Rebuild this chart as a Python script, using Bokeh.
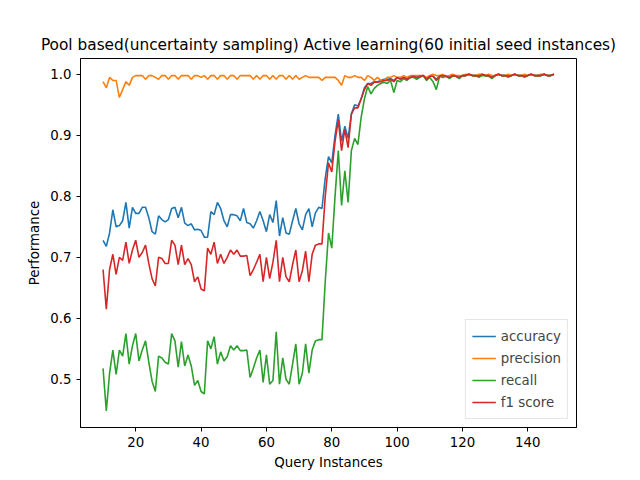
from bokeh.embed import file_html
from bokeh.resources import INLINE
from bokeh.plotting import figure
from bokeh.models import Legend, LegendItem, FixedTicker, NumeralTickFormatter

query = list(range(10, 149))

accuracy_head = [0.728, 0.718, 0.740, 0.778, 0.750, 0.752, 0.760, 0.790, 0.748, 0.782,
                 0.772, 0.772, 0.782, 0.782, 0.765, 0.742, 0.738, 0.768, 0.762, 0.758,
                 0.762, 0.780, 0.782, 0.765, 0.782, 0.756, 0.752, 0.755, 0.745, 0.746,
                 0.744, 0.733, 0.733, 0.775, 0.770, 0.790, 0.780, 0.760, 0.750, 0.770,
                 0.770, 0.768, 0.760, 0.780, 0.757, 0.755, 0.748, 0.760, 0.775, 0.760,
                 0.742, 0.770, 0.757, 0.793, 0.735, 0.765, 0.740, 0.738, 0.760, 0.780,
                 0.755, 0.745, 0.770, 0.780, 0.750, 0.773, 0.782, 0.780, 0.830, 0.865,
                 0.855, 0.900, 0.935, 0.890, 0.915, 0.895, 0.935, 0.950, 0.948, 0.960,
                 0.978, 0.985, 0.985, 0.988, 0.988, 0.990, 0.992]
f1_head = [0.680, 0.615, 0.680, 0.705, 0.672, 0.700, 0.695, 0.725, 0.690, 0.712,
           0.728, 0.700, 0.708, 0.720, 0.690, 0.665, 0.653, 0.700, 0.698, 0.690,
           0.690, 0.728, 0.720, 0.688, 0.720, 0.688, 0.698, 0.688, 0.660, 0.668,
           0.648, 0.645, 0.715, 0.705, 0.725, 0.690, 0.705, 0.690, 0.700, 0.712,
           0.705, 0.712, 0.702, 0.702, 0.703, 0.670, 0.680, 0.692, 0.705, 0.660,
           0.700, 0.665, 0.692, 0.728, 0.660, 0.700, 0.668, 0.660, 0.688, 0.712,
           0.660, 0.678, 0.710, 0.660, 0.705, 0.720, 0.722, 0.722, 0.800, 0.855,
           0.840, 0.890, 0.925, 0.875, 0.910, 0.880, 0.935, 0.945, 0.945, 0.960,
           0.975, 0.985, 0.982, 0.987, 0.987, 0.988, 0.990]
recall_head = [0.518, 0.448, 0.510, 0.548, 0.508, 0.548, 0.538, 0.575, 0.525, 0.555,
               0.575, 0.530, 0.548, 0.563, 0.528, 0.497, 0.480, 0.538, 0.535, 0.528,
               0.525, 0.575, 0.563, 0.520, 0.562, 0.522, 0.540, 0.522, 0.490, 0.498,
               0.480, 0.476, 0.563, 0.550, 0.570, 0.525, 0.545, 0.530, 0.537, 0.555,
               0.548, 0.555, 0.547, 0.547, 0.548, 0.503, 0.518, 0.535, 0.548, 0.495,
               0.540, 0.492, 0.498, 0.578, 0.492, 0.535, 0.500, 0.492, 0.525, 0.558,
               0.492, 0.510, 0.558, 0.510, 0.548, 0.563, 0.565, 0.565, 0.660, 0.740,
               0.715, 0.800, 0.875, 0.785, 0.842, 0.790, 0.875, 0.895, 0.885, 0.930,
               0.960, 0.980, 0.968, 0.977, 0.982, 0.985, 0.987]
precision_head = [0.988, 0.978, 0.995, 0.990, 0.990, 0.962, 0.975, 0.988, 0.982, 0.995,
                  0.998, 0.998, 0.998, 0.992, 0.998, 0.998, 0.995, 0.992, 0.998, 0.998,
                  0.992, 0.998, 0.998, 0.992, 0.998, 0.998, 0.998, 0.992, 0.998, 0.998,
                  0.995, 0.998, 0.992, 0.998, 0.998, 0.992, 0.998, 0.998, 0.992, 0.998,
                  0.998, 0.992, 0.998, 0.998, 0.998, 0.998, 0.992, 0.998, 0.992, 0.998,
                  0.998, 0.992, 0.998, 0.992, 0.998, 0.998, 0.992, 0.998, 0.992, 0.998,
                  0.992, 0.995, 0.998, 0.995, 0.995, 0.995, 0.995, 0.990, 0.995, 0.995,
                  0.995, 0.995, 0.990, 0.982, 0.998, 0.995, 0.995, 0.998, 0.995, 0.995,
                  0.990, 0.998, 0.995, 0.990, 0.995, 0.990, 0.990]

accuracy_tail = [0.992, 0.993, 0.990, 0.995, 0.993, 0.995, 0.993, 0.995, 0.997, 0.995,
                 0.997, 0.998, 0.993, 0.997, 0.997, 0.992, 0.997, 0.998, 0.997, 0.995,
                 0.998, 0.997, 0.995, 0.998, 0.998, 1.000, 0.998, 0.998, 0.997, 1.000,
                 0.998, 0.998, 0.995, 0.998, 1.000, 0.998, 0.998, 0.997, 0.998, 1.000,
                 0.998, 0.998, 0.997, 0.998, 1.000, 0.998, 0.998, 0.998, 1.000, 0.998,
                 0.998, 1.000]
f1_tail = [0.990, 0.992, 0.988, 0.995, 0.992, 0.995, 0.992, 0.995, 0.997, 0.995,
           0.997, 0.998, 0.992, 0.997, 0.997, 0.990, 0.997, 0.998, 0.997, 0.995,
           0.998, 0.997, 0.995, 0.998, 0.998, 1.000, 0.998, 0.998, 0.997, 1.000,
           0.998, 0.998, 0.995, 0.998, 1.000, 0.998, 0.998, 0.997, 0.998, 1.000,
           0.998, 0.998, 0.997, 0.998, 1.000, 0.998, 0.998, 0.998, 1.000, 0.998,
           0.998, 1.000]
recall_tail = [0.985, 0.990, 0.970, 0.990, 0.988, 0.993, 0.990, 0.995, 0.995, 0.992,
               0.995, 0.998, 0.990, 0.995, 0.988, 0.975, 0.997, 0.995, 0.997, 0.993,
               0.997, 0.997, 0.993, 0.998, 0.998, 1.000, 0.998, 0.998, 0.995, 0.998,
               0.998, 0.997, 0.993, 0.998, 1.000, 0.998, 0.998, 0.995, 0.998, 1.000,
               0.998, 0.998, 0.995, 0.998, 1.000, 0.998, 0.998, 0.998, 1.000, 0.998,
               0.998, 1.000]
precision_tail = [0.995, 0.995, 0.998, 0.995, 0.995, 0.998, 0.995, 0.998, 0.998, 0.998,
                  0.998, 0.998, 0.995, 0.998, 1.000, 0.998, 0.998, 1.000, 0.997, 0.998,
                  1.000, 0.998, 0.998, 0.998, 1.000, 1.000, 0.998, 0.998, 1.000, 1.000,
                  0.998, 1.000, 0.998, 0.998, 1.000, 0.998, 0.998, 1.000, 0.998, 1.000,
                  0.998, 0.998, 1.000, 0.998, 1.000, 0.998, 0.998, 1.000, 1.000, 0.998,
                  0.998, 1.000]

series = [
    ("accuracy", accuracy_head + accuracy_tail, "#1f77b4"),
    ("precision", precision_head + precision_tail, "#ff7f0e"),
    ("recall", recall_head + recall_tail, "#2ca02c"),
    ("f1 score", f1_head + f1_tail, "#d62728"),
]

p = figure(width=640, height=480, output_backend="svg", toolbar_location=None,
           x_range=(3.1, 154.9), y_range=(0.421, 1.026),
           title="Pool based(uncertainty sampling) Active learning(60 initial seed instances)",
           min_border_left=80, min_border_right=64, min_border_top=58, min_border_bottom=53)
p.title.text_font = "DejaVu Sans"
p.title.text_font_size = "11.5pt"
p.title.text_font_style = "normal"
p.title.text_color = "black"
p.title.align = "center"
p.xgrid.grid_line_color = None
p.ygrid.grid_line_color = None
p.outline_line_color = "black"
p.xaxis.axis_label = "Query Instances"
p.yaxis.axis_label = "Performance"
p.xaxis.ticker = FixedTicker(ticks=[20, 40, 60, 80, 100, 120, 140])
p.yaxis.ticker = FixedTicker(ticks=[0.5, 0.6, 0.7, 0.8, 0.9, 1.0])
p.yaxis.formatter = NumeralTickFormatter(format="0.0")
p.xaxis.minor_tick_line_color = None
p.yaxis.minor_tick_line_color = None
for ax in (p.xaxis, p.yaxis):
    ax.axis_label_text_font = "DejaVu Sans"
    ax.axis_label_text_font_style = "normal"
    ax.axis_label_text_font_size = "10pt"
    ax.axis_label_text_color = "black"
    ax.major_label_text_font = "DejaVu Sans"
    ax.major_label_text_font_size = "10pt"
    ax.major_label_text_color = "black"
    ax.major_tick_out = 4
    ax.major_tick_in = 0

items = []
for name, vals, color in series:
    r = p.line(query, vals, line_color=color, line_width=1.6)
    items.append(LegendItem(label=name, renderers=[r]))

legend = Legend(items=items, location="bottom_right", label_text_font="DejaVu Sans",
                label_text_font_size="10pt", border_line_color="#cccccc",
                glyph_width=24, spacing=2, margin=8, padding=6)
p.add_layout(legend)

open("out.html", "w").write(file_html(p, INLINE))
